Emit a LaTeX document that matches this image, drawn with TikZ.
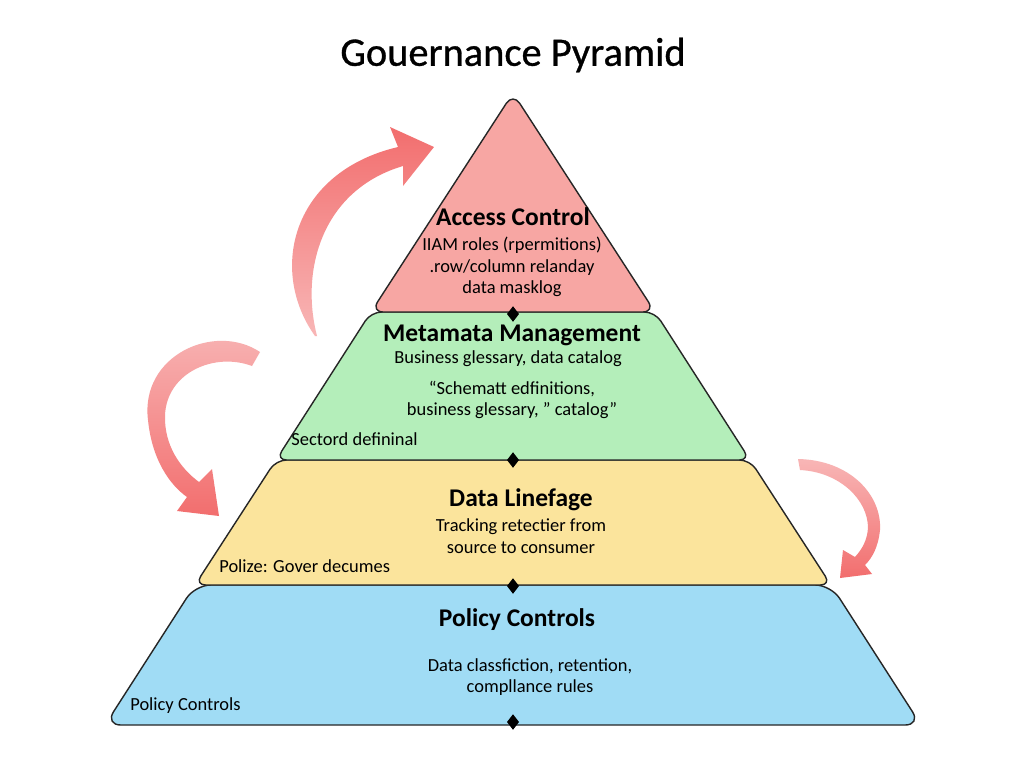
\documentclass[tikz,border=0pt]{standalone}
\usepackage{fontspec}
\setmainfont{Carlito}
\newfontfamily\titlefont[FakeBold=0.8]{Carlito}
\usepackage{tikz}
\usetikzlibrary{positioning,shapes.geometric}
\definecolor{AccessRed}{HTML}{F7A6A3}
\definecolor{MetaGreen}{HTML}{B4EEBA}
\definecolor{LineageYellow}{HTML}{FBE49C}
\definecolor{PolicyBlue}{HTML}{A0DCF5}
\definecolor{EdgeDark}{HTML}{262626}
\definecolor{ArrowRed}{HTML}{F26E6E}
\definecolor{ArrowPale}{HTML}{F8B6B6}

\begin{document}
\begin{tikzpicture}[x=0.02cm, y=-0.02cm, every node/.style={font=\fontsize{10.5}{12.2}\selectfont, inner sep=0pt},
  layer/.style={draw=EdgeDark, line width=0.8pt, rounded corners=6pt},
  head/.style={font=\fontsize{14.5}{17}\selectfont\bfseries},
  body/.style={align=center},
  marker/.style={diamond, fill=black, aspect=0.8, minimum width=7pt, minimum height=9pt}]
  \useasboundingbox (0,0) rectangle (1024,768);
  \fill[white] (0,0) rectangle (1024,768);

  % Layers
  \filldraw[layer, fill=PolicyBlue, rounded corners=9pt] (195,585) -- (105,725) -- (921,725) -- (831,585) -- cycle;
  \filldraw[layer, fill=LineageYellow] (276,460) -- (195,585) -- (831,585) -- (750,460) -- cycle;
  \filldraw[layer, fill=MetaGreen] (371,312) -- (276,460) -- (750,460) -- (655,312) -- cycle;
  \filldraw[layer, fill=AccessRed, rounded corners=7pt] (513,93) -- (371,312) -- (655,312) -- cycle;

  % Nodes
  \node[font=\titlefont\fontsize{23}{27}\selectfont] (title) at (513,55) {Gouernance Pyramid};

  \node[head] (access) at (513,217) {Access Control};
  \node[body] (accessTxt) at (512,267) {IIAM roles (rpermitions)\\.row/column relanday\\data masklog};

  \node[head] (meta) at (512,335) {Metamata Management};
  \node[body] (metaTxt) at (508,359) {Business glessary, data catalog};
  \node[body] (metaQuote) at (512,400) {“Schematt edfinitions,\\business glessary, ” catalog”};
  \node[anchor=west] (metaSide) at (291,439) {Sectord defininal};

  \node[head] (lineage) at (521,500) {Data Linefage};
  \node[body] (lineageTxt) at (521,536) {Tracking retectier from\\source to consumer};
  \node[anchor=west] (lineageSide) at (219,566) {Polize: Gover decumes};

  \node[head] (policy) at (517,620) {Policy Controls};
  \node[body] (policyTxt) at (530,677) {Data classfiction, retention,\\compllance rules};
  \node[anchor=west] (policySide) at (130,706) {Policy Controls};

  \node[marker] (m1) at (513,314) {};
  \node[marker] (m2) at (513,460) {};
  \node[marker] (m3) at (513,586) {};
  \node[marker] (m4) at (513,722) {};

  % Arrows
  \shade[top color=ArrowRed, bottom color=ArrowPale]
    (315,336) .. controls (268,270) and (292,172) .. (398,147) -- (390,127) -- (434,147)
    -- (403,186) -- (403,166) .. controls (322,190) and (300,270) .. (317,336) -- cycle;
  \shade[top color=ArrowPale, bottom color=ArrowRed]
    (260,352) .. controls (215,322) and (140,355) .. (148,420) .. controls (152,460) and (170,485) .. (187,497)
    -- (177,511) -- (219,516) -- (212,469) -- (199,482)
    .. controls (180,468) and (164,445) .. (165,415) .. controls (167,372) and (215,352) .. (252,366) -- cycle;
  \shade[top color=ArrowPale, bottom color=ArrowRed]
    (798,459) .. controls (850,460) and (882,495) .. (880,530) .. controls (878,548) and (872,558) .. (865,565)
    -- (872,574) -- (840,578) -- (843,550) -- (855,557)
    .. controls (863,548) and (867,540) .. (868,528) .. controls (868,500) and (840,472) .. (800,470) -- cycle;
\end{tikzpicture}
\end{document}
